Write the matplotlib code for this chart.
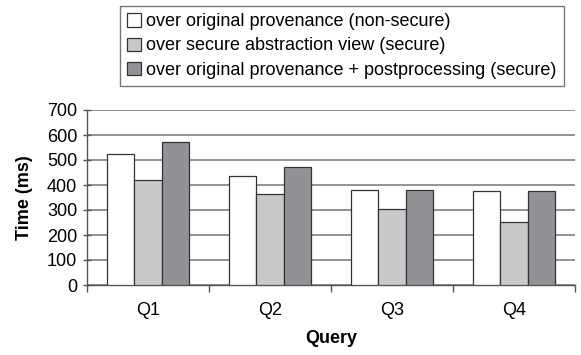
import matplotlib
matplotlib.use("Agg")
import matplotlib.pyplot as plt
import numpy as np

plt.rcParams['font.family'] = ['Liberation Sans', 'DejaVu Sans']

categories = ["Q1", "Q2", "Q3", "Q4"]
series_names = [
    "over original provenance (non-secure)",
    "over secure abstraction view (secure)",
    "over original provenance + postprocessing (secure)",
]
nonsecure = [524, 435, 381, 377]
abstraction = [420, 365, 305, 253]
postproc = [573, 473, 381, 377]
yticks = [0, 100, 200, 300, 400, 500, 600, 700]

colors = ["#ffffff", "#c8c9cb", "#919296"]
FS = 13

fig = plt.figure(figsize=(5.81, 3.55), dpi=100)
ax = fig.add_axes([87/581, 1-285/355, 488/581, 175/355])

x = np.arange(len(categories))
w = 0.222
for i, (vals, c, name) in enumerate(zip([nonsecure, abstraction, postproc], colors, series_names)):
    ax.bar(x + (i - 1) * w, vals, width=w, color=c, edgecolor="#333333", linewidth=0.9, label=name, zorder=3)

ax.set_xlim(-0.5, 3.5)
ax.set_ylim(0, 700)
ax.set_yticks(yticks)
ax.yaxis.grid(True, color="#8a8a8a", linewidth=1.3, zorder=0)
ax.set_axisbelow(True)

ax.set_xticks(x)
ax.set_xticklabels(categories, fontsize=FS)
ax.tick_params(axis='x', length=0, pad=12)
ax.set_xticks(np.arange(-0.5, 4.0, 1.0), minor=True)
ax.tick_params(axis='x', which='minor', length=5, color="#555555", width=1)
ax.tick_params(axis='y', length=6, color="#555555", width=1, labelsize=FS, direction='inout', pad=4)

for s in ['top', 'right']:
    ax.spines[s].set_visible(False)
ax.spines['left'].set_color("#555555")
ax.spines['bottom'].set_color("#555555")
ax.spines['left'].set_linewidth(1)
ax.spines['bottom'].set_linewidth(1)

ax.set_xlabel("Query", fontsize=FS, fontweight='bold', labelpad=8)
ax.set_ylabel("Time (ms)", fontsize=FS, fontweight='bold', labelpad=10)

leg = fig.legend(loc='upper left', bbox_to_anchor=(120/581, 1-6/355), fontsize=FS,
                 frameon=True, fancybox=False, edgecolor="#555555",
                 handlelength=0.75, handleheight=0.75, handletextpad=0.3,
                 borderpad=0.4, labelspacing=0.4, borderaxespad=0)
leg.get_frame().set_linewidth(1)

fig.savefig("out.png", dpi=100)
